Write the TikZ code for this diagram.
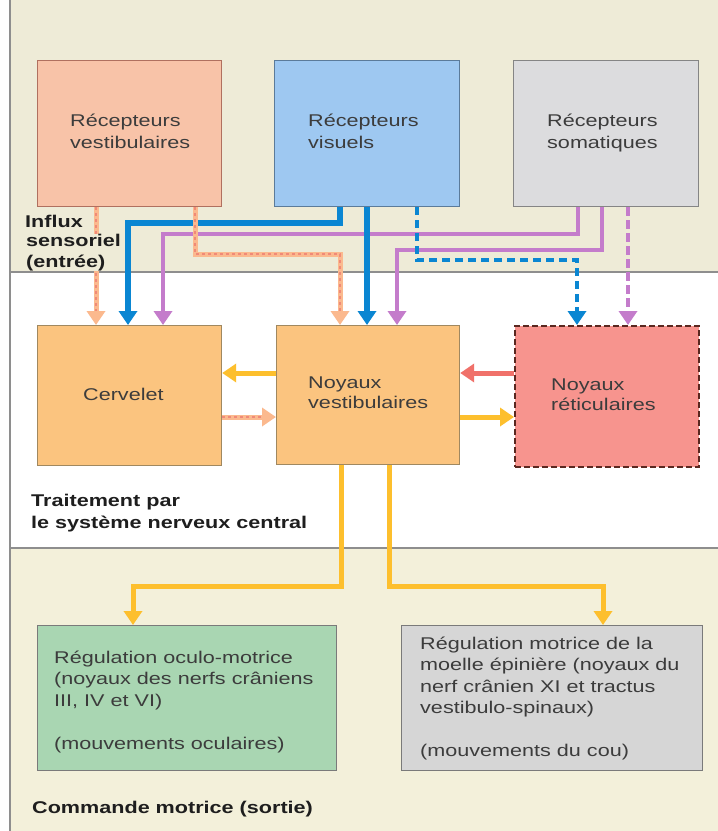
\documentclass[tikz,border=0pt]{standalone}
\usepackage{fontspec}
\setmainfont{Liberation Sans}[FakeStretch=1.27]
\usetikzlibrary{arrows.meta}
\definecolor{topbg}{HTML}{EEEBD7}
\definecolor{botbg}{HTML}{F3F0DA}
\definecolor{sepc}{HTML}{8E8E8E}
\definecolor{vestfill}{HTML}{F8C3A8}
\definecolor{vestdraw}{HTML}{B0705F}
\definecolor{visfill}{HTML}{9EC8F1}
\definecolor{visdraw}{HTML}{5B7B9A}
\definecolor{somfill}{HTML}{DCDCDE}
\definecolor{somdraw}{HTML}{858585}
\definecolor{orfill}{HTML}{FBC47F}
\definecolor{ordraw}{HTML}{A08860}
\definecolor{retfill}{HTML}{F7948E}
\definecolor{retdraw}{HTML}{5A2820}
\definecolor{greenfill}{HTML}{A9D6B2}
\definecolor{grayfill}{HTML}{D6D6D6}
\definecolor{boxdraw}{HTML}{7A7A7A}
\definecolor{bluec}{HTML}{0A86D2}
\definecolor{purplec}{HTML}{C47CCB}
\definecolor{peachc}{HTML}{FBB98E}
\definecolor{pinkc}{HTML}{F08A78}
\definecolor{yellowc}{HTML}{FDBF2D}
\definecolor{redc}{HTML}{F0716A}
\definecolor{txtc}{HTML}{3C3C3C}
\definecolor{lblc}{HTML}{1E1E1E}
\tikzset{
  box/.style={anchor=north west, inner sep=0pt, line width=1.2pt},
  intxt/.style={anchor=base west, inner sep=0pt, align=left, text=txtc,
    font=\fontsize{17}{22}\selectfont},
  lbl/.style={anchor=base west, inner sep=0pt, align=left, text=lblc,
    font=\fontsize{17}{21}\selectfont\bfseries},
  tip/.style={-{Triangle[width=18pt,length=14pt]}},
  blueA/.style={draw=bluec, line width=5.5pt, tip},
  blueD/.style={draw=bluec, line width=4.5pt, dash pattern=on 8pt off 5pt, tip},
  purpleA/.style={draw=purplec, line width=4.5pt, tip},
  purpleD/.style={draw=purplec, line width=4.5pt, dash pattern=on 9pt off 4pt, tip},
  peachA/.style={draw=peachc, line width=5pt, tip,
    postaction={draw=pinkc, line width=1.6pt, dash pattern=on 3pt off 3pt, -, shorten >=14pt}},
  yellowA/.style={draw=yellowc, line width=5pt, tip},
  redA/.style={draw=redc, line width=5pt, tip},
  yellowL/.style={draw=yellowc, line width=5pt, tip},
}
\begin{document}
\begin{tikzpicture}[x=1pt,y=-1pt]
\useasboundingbox (0,0) rectangle (718,831);
% backgrounds
\fill[white] (0,0) rectangle (718,831);
\fill[topbg] (10,0) rectangle (718,272);
\fill[white] (10,272) rectangle (718,548);
\fill[botbg] (10,548) rectangle (718,831);
\draw[sepc, line width=1.5pt] (10,0) -- (10,831);
\draw[sepc, line width=1.5pt] (10,272) -- (718,272);
\draw[sepc, line width=1.5pt] (10,548) -- (718,548);

% boxes
\node[box, fill=vestfill, draw=vestdraw, minimum width=184pt, minimum height=146pt] (rvest) at (37,60) {};
\node[box, fill=visfill, draw=visdraw, minimum width=185pt, minimum height=146pt] (rvis) at (274,60) {};
\node[box, fill=somfill, draw=somdraw, minimum width=185pt, minimum height=146pt] (rsom) at (513,60) {};
\node[box, fill=orfill, draw=ordraw, minimum width=184pt, minimum height=140pt] (cerv) at (37,325) {};
\node[box, fill=orfill, draw=ordraw, minimum width=183pt, minimum height=139pt] (nvest) at (276,325) {};
\node[box, fill=retfill, draw=retdraw, line width=1.8pt, dash pattern=on 6pt off 3pt, minimum width=184pt, minimum height=141pt] (nret) at (514,325) {};
\node[box, fill=greenfill, draw=boxdraw, minimum width=299pt, minimum height=145pt] (ocul) at (37,625) {};
\node[box, fill=grayfill, draw=boxdraw, minimum width=301pt, minimum height=145pt] (moel) at (401,625) {};

% texts (anchor = baseline of last line)
\node[intxt] (trvest) at (70,148) {Récepteurs\\vestibulaires};
\node[intxt] (trvis) at (308,148) {Récepteurs\\visuels};
\node[intxt] (trsom) at (547,148) {Récepteurs\\somatiques};
\node[intxt] (tcerv) at (83,400) {Cervelet};
\node[intxt, font=\fontsize{17}{20}\selectfont] (tnvest) at (308,408) {Noyaux\\vestibulaires};
\node[intxt, font=\fontsize{17}{20}\selectfont] (tnret) at (551,410) {Noyaux\\réticulaires};
\node[intxt, font=\fontsize{17}{21.5}\selectfont] (tocul) at (54,749) {Régulation oculo-motrice\\(noyaux des nerfs crâniens\\III, IV et VI)\\[21.5pt](mouvements oculaires)};
\node[intxt, font=\fontsize{17}{21.5}\selectfont] (tmoel) at (420,756) {Régulation motrice de la\\moelle épinière (noyaux du\\nerf crânien XI et tractus\\vestibulo-spinaux)\\[21pt](mouvements du cou)};
\node[lbl, font=\fontsize{17}{22}\selectfont\bfseries] (ltrait) at (31,528) {Traitement par\\le système nerveux central};
\node[lbl] (lcmd) at (32,813) {Commande motrice (sortie)};

% sensory input connectors
\draw[peachA] ([xshift=59pt]rvest.south west) -- ([xshift=59pt]cerv.north west);
\draw[blueA] ([xshift=66pt]rvis.south west) -- ++(0,16) -| ([xshift=91pt]cerv.north west);
\draw[purpleA] ([xshift=65pt]rsom.south west) -- ++(0,27) -| ([xshift=126pt]cerv.north west);
\draw[peachA] ([xshift=158pt]rvest.south west) -- ++(0,47) -| ([xshift=64pt]nvest.north west);
\draw[blueA, line width=6.5pt] ([xshift=93pt]rvis.south west) -- ([xshift=91pt]nvest.north west);
\draw[purpleA] ([xshift=89pt]rsom.south west) -- ++(0,43) -| ([xshift=121pt]nvest.north west);
\draw[blueD] ([xshift=143pt]rvis.south west) -- ++(0,53) -| ([xshift=63pt]nret.north west);
\draw[purpleD] ([xshift=115pt]rsom.south west) -- ([xshift=114pt]nret.north west);

% input label drawn over the peach line
\node[lbl] (linflux1) at (25,227) {Influx};
\node[lbl, fill=topbg, inner xsep=1pt, font=\fontsize{17}{20.5}\selectfont\bfseries] (linflux2) at (25,267) {sensoriel\\(entrée)};

% central connectors
\draw[yellowA] ([yshift=-48pt]nvest.north west) -- ([yshift=-48pt]cerv.north east);
\draw[peachA] ([yshift=-92pt]cerv.north east) -- ([yshift=-92pt]nvest.north west);
\draw[redA] ([yshift=-48pt]nret.north west) -- ([yshift=-48pt]nvest.north east);
\draw[yellowA] ([yshift=-92pt]nvest.north east) -- ([yshift=-92pt]nret.north west);

% motor output connectors
\draw[yellowL] ([xshift=65pt]nvest.south west) -- ++(0,121) -| ([xshift=96pt]ocul.north west);
\draw[yellowL] ([xshift=113pt]nvest.south west) -- ++(0,121) -| ([xshift=202pt]moel.north west);
\end{tikzpicture}
\end{document}
